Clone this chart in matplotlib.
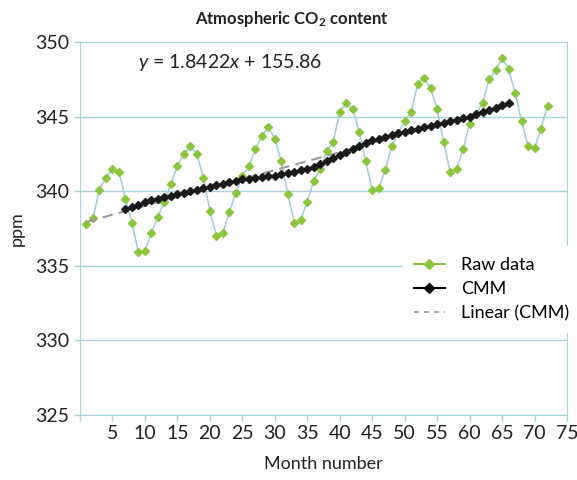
import numpy as np
import matplotlib
matplotlib.use("Agg")
import matplotlib.pyplot as plt
from matplotlib.lines import Line2D

FONT = ["Lato", "DejaVu Sans"]
plt.rcParams["font.family"] = FONT
plt.rcParams["mathtext.fontset"] = "custom"
plt.rcParams["mathtext.rm"] = "Lato"
plt.rcParams["mathtext.it"] = "Lato:italic"
plt.rcParams["mathtext.bf"] = "Lato:bold"

# raw monthly CO2 readings (ppm), months 1..72
months = list(range(1, 73))
raw_ppm = [337.8, 338.2, 340.1, 340.9, 341.5, 341.3, 339.5, 337.9, 335.9, 336.0,
           337.2, 338.3, 339.3, 340.5, 341.7, 342.5, 343.0, 342.5, 340.9, 338.7,
           337.0, 337.2, 338.6, 339.9, 341.0, 341.7, 342.8, 343.7, 344.3, 343.5,
           342.0, 339.8, 337.9, 338.1, 339.3, 340.7, 341.5, 342.7, 343.3, 345.3,
           345.9, 345.5, 344.0, 342.0, 340.1, 340.2, 341.4, 343.0, 343.9, 344.7,
           345.3, 347.2, 347.6, 346.9, 345.5, 343.3, 341.3, 341.5, 342.8, 344.5,
           345.2, 345.9, 347.5, 348.1, 348.9, 348.2, 346.6, 344.7, 343.0, 342.9,
           344.2, 345.7]

# centred moving mean, months 7..66
cmm_months = list(range(7, 67))
cmm_ppm = [338.8, 338.95, 339.1, 339.25, 339.4, 339.5, 339.6, 339.7, 339.8, 339.9,
           340.0, 340.1, 340.2, 340.3, 340.4, 340.5, 340.6, 340.7, 340.8, 340.85,
           340.9, 340.95, 341.0, 341.05, 341.15, 341.2, 341.3, 341.4, 341.5, 341.65,
           341.8, 342.0, 342.2, 342.45, 342.65, 342.85, 343.05, 343.25, 343.4, 343.5,
           343.65, 343.8, 343.9, 344.0, 344.1, 344.2, 344.3, 344.4, 344.5, 344.6,
           344.7, 344.8, 344.9, 345.0, 345.15, 345.3, 345.45, 345.6, 345.75, 345.9]
trend_span = [1, 67]

green = "#8cc63e"
blue = "#9ccfd8"
grid_c = "#a9d3dc"

fig = plt.figure(figsize=(5.77, 4.8), dpi=100)
ax = fig.add_axes([0.1386, 0.1354, 0.8441, 0.7771])

ax.plot(months, raw_ppm, color=blue, lw=1.1, zorder=2)
ax.plot(months, raw_ppm, ls="none", marker="D", ms=4.5, color=green, mec=green, zorder=3)

slope, icpt = np.polyfit(cmm_months, cmm_ppm, 1)
tx = np.array(trend_span)
ax.plot(tx, slope * tx + icpt, color="#9a9a9a", lw=1.5, dashes=(5, 3), zorder=4)
ax.plot(cmm_months, cmm_ppm, color="#333333", lw=1.2, marker="D", ms=4.2,
        mfc="#1a1a1a", mec="#1a1a1a", zorder=5)

ax.set_xlim(0, 75)
ax.set_ylim(325, 350)
ax.set_xticks(range(0, 76, 5))
ax.set_xticklabels([""] + [str(v) for v in range(5, 76, 5)])
ax.set_yticks(range(325, 351, 5))
ax.yaxis.grid(True, color=grid_c, lw=1)
ax.set_axisbelow(True)
for s in ["left", "bottom", "right"]:
    ax.spines[s].set_color(grid_c)
ax.spines["top"].set_visible(False)
ax.tick_params(axis="both", colors=grid_c, labelcolor="#222222", labelsize=14,
               length=4, width=1)

ax.set_xlabel("Month number", fontsize=13, color="#222222", labelpad=10)
ax.set_ylabel("ppm", fontsize=13, color="#222222", labelpad=8)
fig.suptitle(r"Atmospheric CO$_\mathbf{2}$ content", x=0.506, y=0.982, fontsize=12,
             fontweight="bold", color="#222222")

ax.text(9.0, 348.6, r"$y$ = 1.8422$x$ + 155.86", fontsize=14, color="#222222",
        va="center", ha="left")

handles = [
    Line2D([], [], color=green, lw=1.5, marker="D", ms=5, mec=green),
    Line2D([], [], color="black", lw=1.5, marker="D", ms=5),
    Line2D([], [], color="#9a9a9a", lw=1.2, dashes=(3, 3)),
]
leg = ax.legend(handles, ["Raw data", "CMM", "Linear (CMM)"], loc="upper left",
                bbox_to_anchor=(0.645, 0.476), frameon=True, fancybox=False,
                edgecolor="white", framealpha=1, fontsize=13, handlelength=1.7,
                handletextpad=0.9, labelspacing=0.45, borderpad=0.6)
leg.get_frame().set_linewidth(0)

fig.savefig("out.png", dpi=100)
